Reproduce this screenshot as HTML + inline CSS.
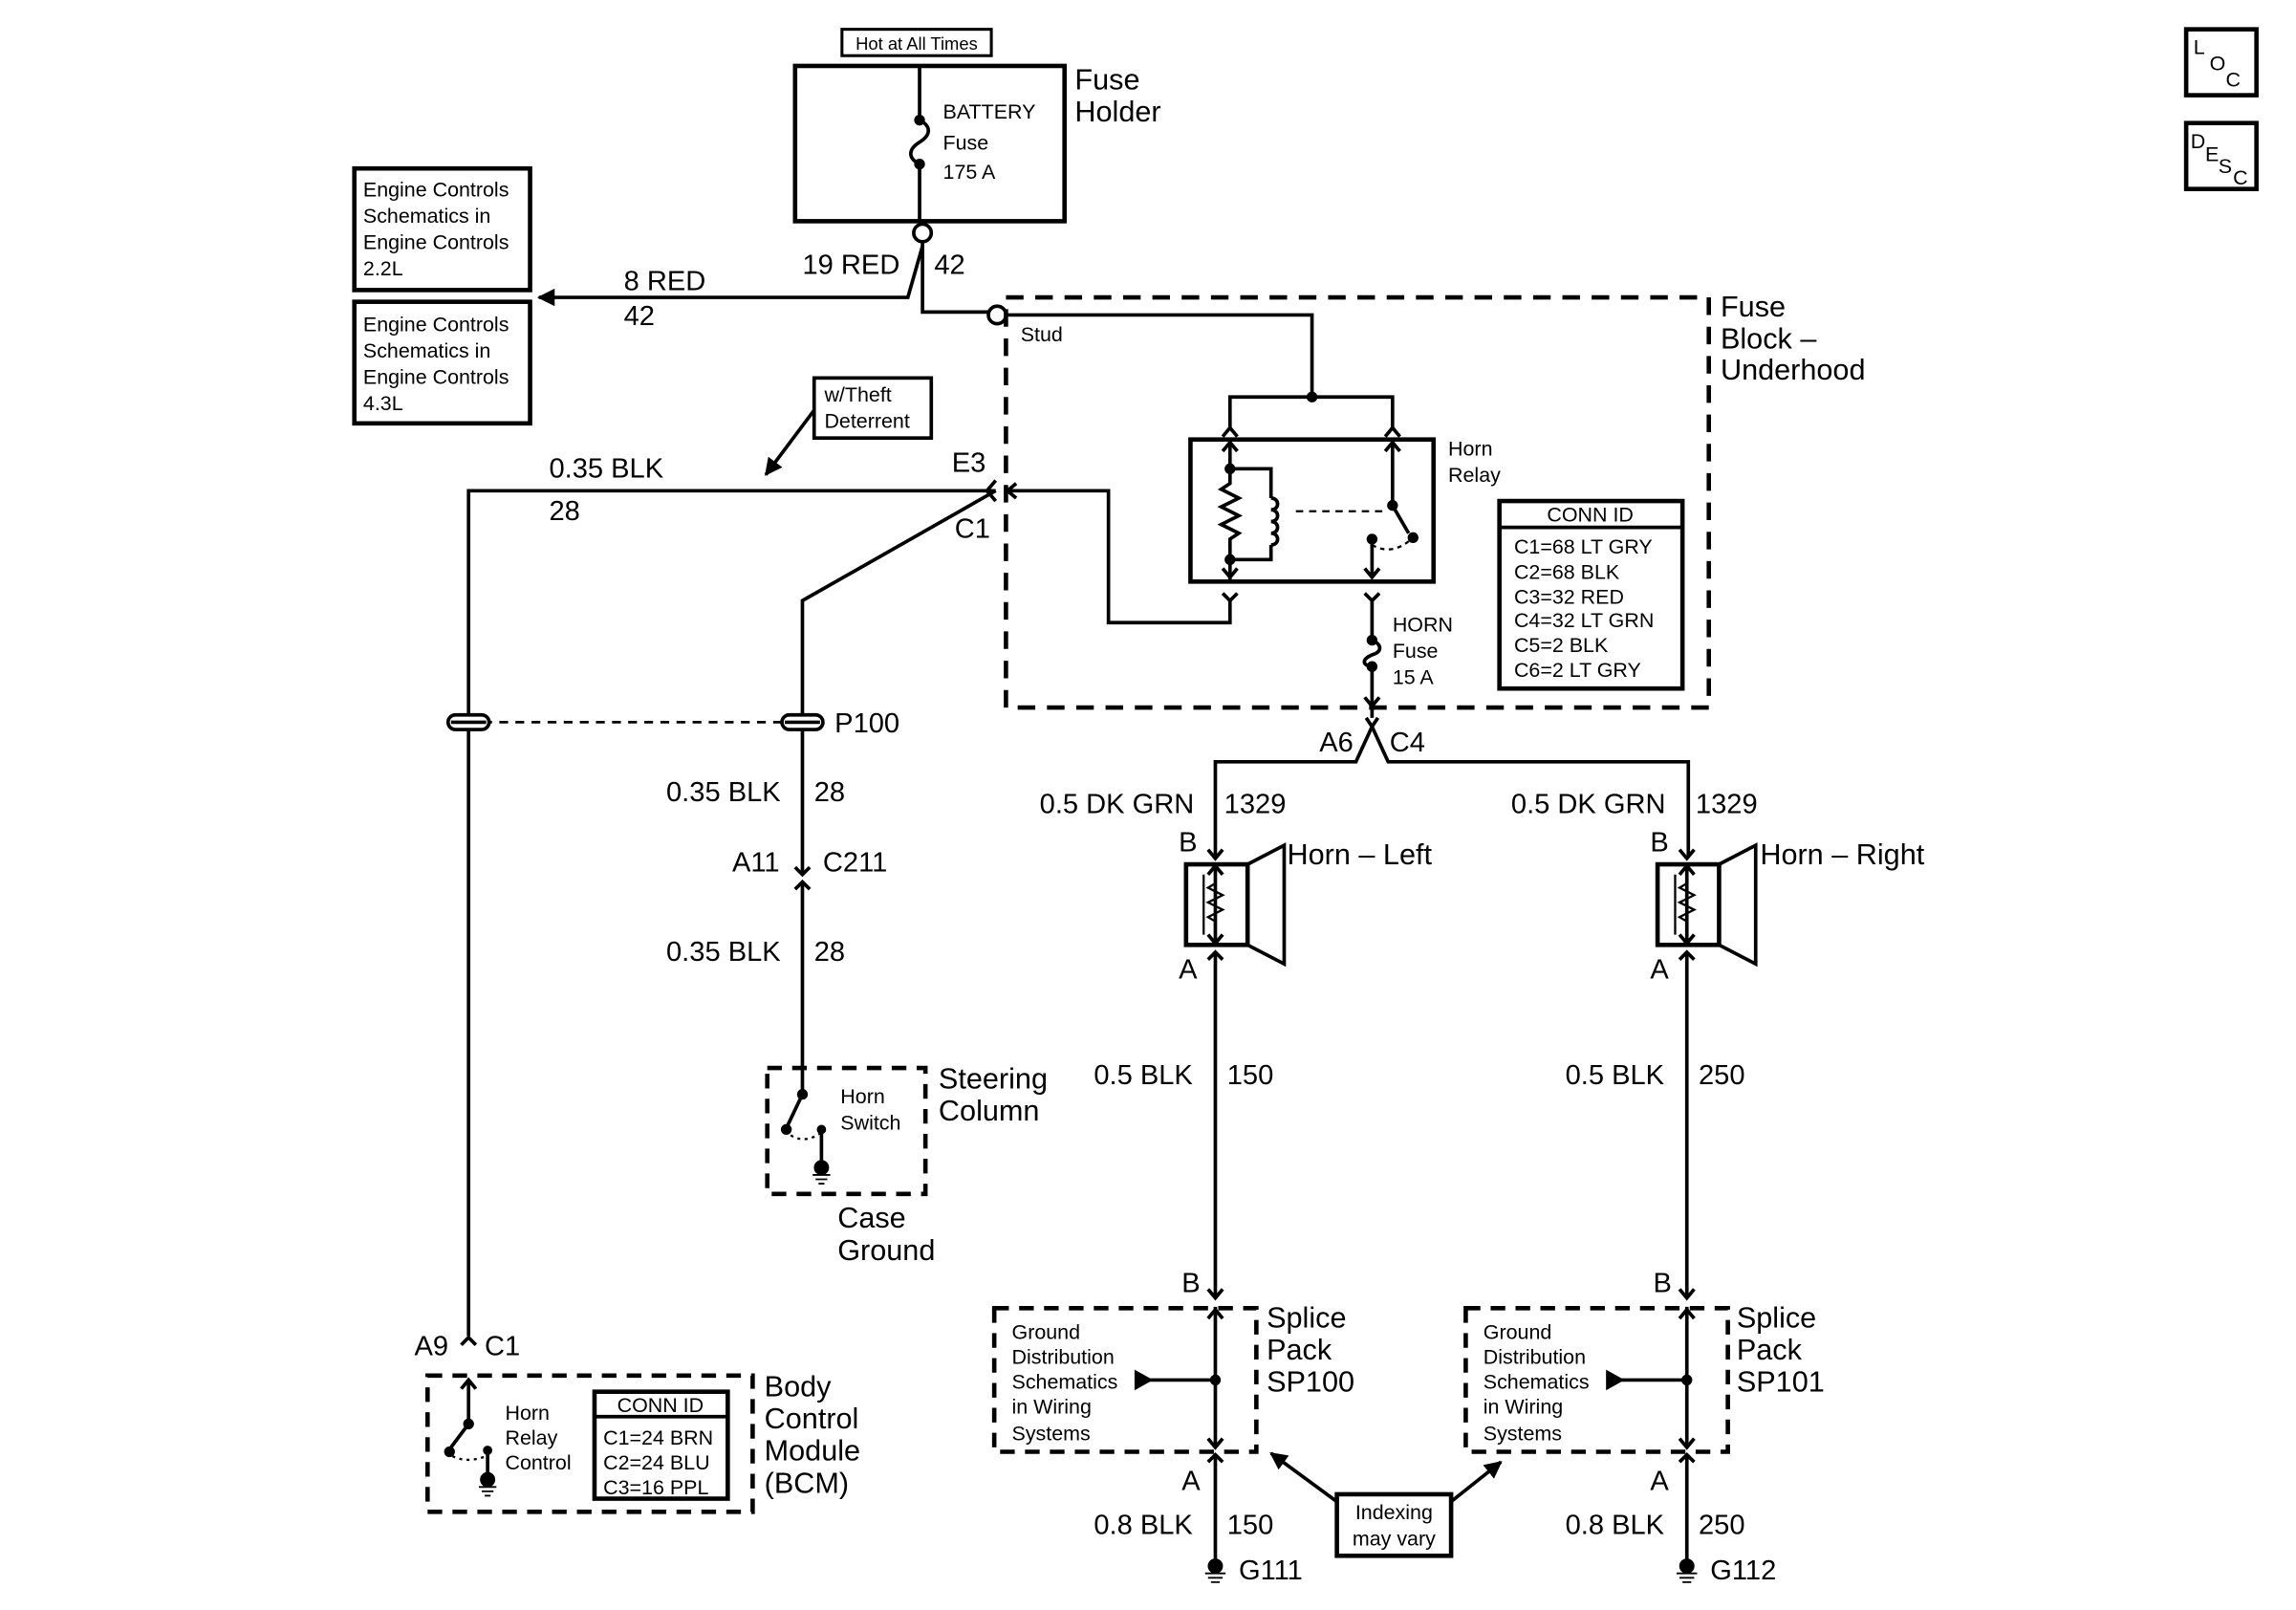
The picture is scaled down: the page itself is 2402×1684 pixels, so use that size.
<!DOCTYPE html>
<html><head><style>html,body{margin:0;padding:0;background:#fff}svg{display:block}</style></head>
<body>
<svg width="2402" height="1684" viewBox="0 0 1568 1099" preserveAspectRatio="none" xmlns="http://www.w3.org/2000/svg" font-family="Liberation Sans, sans-serif" fill="none" stroke="#000" stroke-width="2.4">
<defs>
<marker id="ar" viewBox="0 0 10 10" refX="9" refY="5" markerWidth="5" markerHeight="5" orient="auto"><path d="M0,0 L10,5 L0,10 z" fill="#000" stroke="none"/></marker>
</defs>
<!-- LOC / DESC -->
<rect x="1493" y="20" width="48" height="45" stroke-width="3"/>
<rect x="1493" y="84" width="48" height="45" stroke-width="3"/>
<g fill="#000" stroke="none" font-size="14">
<text x="1498" y="37">L</text><text x="1509" y="48">O</text><text x="1520" y="59">C</text>
<text x="1496" y="101">D</text><text x="1506" y="110">E</text><text x="1515" y="118">S</text><text x="1525" y="126">C</text>
</g>
<!-- Hot at all times -->
<rect x="575" y="20" width="102" height="18" stroke-width="2"/>
<text x="626" y="34" font-size="12" text-anchor="middle" fill="#000" stroke="none">Hot at All Times</text>
<!-- Fuse holder -->
<rect x="543" y="45" width="184" height="106" stroke-width="3"/>
<path d="M628,45 V82 M628,112 V151"/>
<path d="M628,82 c8,4 8,10 0,15 c-8,5 -8,11 0,15"/>
<circle cx="628" cy="82" r="2.5" fill="#000"/><circle cx="628" cy="112" r="2.5" fill="#000"/>
<g fill="#000" stroke="none" font-size="14">
<text x="644" y="81">BATTERY</text><text x="644" y="102">Fuse</text><text x="644" y="122">175 A</text>
</g>
<g fill="#000" stroke="none" font-size="20">
<text x="734" y="61">Fuse</text><text x="734" y="83">Holder</text>
</g>
<circle cx="630" cy="159" r="6" fill="#fff"/>
<path d="M630,165 V213 H675"/>
<path d="M630,168 L620,203 H368" marker-end="url(#ar)"/>
<circle cx="681" cy="215" r="6" fill="#fff"/>
<g fill="#000" stroke="none" font-size="19">
<text x="548" y="187">19 RED</text><text x="638" y="187">42</text>
<text x="426" y="198">8 RED</text><text x="426" y="222">42</text>
</g>
<!-- Engine controls boxes -->
<rect x="242" y="115" width="120" height="83" stroke-width="3"/>
<rect x="242" y="206" width="120" height="83" stroke-width="3"/>
<g fill="#000" stroke="none" font-size="14">
<text x="248" y="134">Engine Controls</text><text x="248" y="152">Schematics in</text><text x="248" y="170">Engine Controls</text><text x="248" y="188">2.2L</text>
<text x="248" y="226">Engine Controls</text><text x="248" y="244">Schematics in</text><text x="248" y="262">Engine Controls</text><text x="248" y="280">4.3L</text>
</g>
<!-- Fuse block underhood -->
<rect x="687" y="203" width="480" height="280" stroke-width="3" stroke-dasharray="12,8"/>
<g fill="#000" stroke="none" font-size="20">
<text x="1175" y="216">Fuse</text><text x="1175" y="238">Block –</text><text x="1175" y="259">Underhood</text>
</g>
<text x="697" y="233" font-size="14" fill="#000" stroke="none">Stud</text>
<path d="M687,215 H896 V271 M840,293 V271 H951 V293"/>
<circle cx="896" cy="271" r="2.5" fill="#000"/>
<path d="M835,298 l5,-6 l5,6 M946,298 l5,-6 l5,6"/>
<rect x="813" y="300" width="166" height="97" stroke-width="3"/>
<path d="M840,300 V330 l-6,4 l12,6 l-12,6 l12,6 l-12,6 l12,6 l-6,4 V397"/>
<path d="M835,308 l5,-6 l5,6 M951,302 V345 M946,308 l5,-6 l5,6"/>
<path d="M840,320 H868 V340 M868,372 V382 H840"/>
<path d="M868,340 c6,0 6,8 0,8 c6,0 6,8 0,8 c6,0 6,8 0,8 c6,0 6,8 0,8"/>
<circle cx="840" cy="320" r="2.5" fill="#000"/><circle cx="840" cy="382" r="2.5" fill="#000"/>
<path d="M885,349 H947" stroke-dasharray="5,4" stroke-width="1.5"/>
<circle cx="951" cy="345" r="2.5" fill="#000"/><circle cx="965" cy="367" r="2.5" fill="#000"/><circle cx="937" cy="368" r="2.5" fill="#000"/>
<path d="M951,345 L962,364"/>
<path d="M937,372 q14,8 28,-5" stroke-dasharray="3,3" stroke-width="1.5"/>
<path d="M937,368 V395 M835,388 l5,6 l5,-6 M932,388 l5,6 l5,-6"/>
<g fill="#000" stroke="none" font-size="14"><text x="989" y="311">Horn</text><text x="989" y="329">Relay</text></g>
<path d="M835,405 l5,5 l5,-5 M932,405 l5,5 l5,-5"/>
<path d="M840,410 V425 H757 V335 H687"/>
<path d="M694,330 l-6,5 l6,5"/>
<path d="M937,410 V437 M937,455 V490"/>
<path d="M937,437 c7,3 7,8 0,10 c-7,3 -7,7 0,8"/>
<circle cx="937" cy="437" r="2.5" fill="#000"/><circle cx="937" cy="455" r="2.5" fill="#000"/>
<path d="M932,476 l5,6 l5,-6"/>
<g fill="#000" stroke="none" font-size="14"><text x="951" y="431">HORN</text><text x="951" y="449">Fuse</text><text x="951" y="467">15 A</text></g>
<!-- CONN ID -->
<rect x="1024" y="342" width="125" height="128" stroke-width="3"/>
<path d="M1024,360 H1149"/>
<g fill="#000" stroke="none" font-size="14">
<text x="1086" y="356" text-anchor="middle">CONN ID</text>
<text x="1034" y="378">C1=68 LT GRY</text><text x="1034" y="395">C2=68 BLK</text><text x="1034" y="412">C3=32 RED</text>
<text x="1034" y="428">C4=32 LT GRN</text><text x="1034" y="445">C5=2 BLK</text><text x="1034" y="462">C6=2 LT GRY</text>
</g>
<!-- A6 C4 -->
<path d="M933,490 l4,6 l4,-6 M937,496 L926,520 H830 V585 M937,496 L948,520 H1153 V585"/>
<g fill="#000" stroke="none" font-size="19"><text x="901" y="513">A6</text><text x="949" y="513">C4</text></g>
<!-- E3 wire -->
<path d="M320,912 V335 H680"/>
<path d="M680,328 l-6,7 l6,7"/>
<path d="M680,335 L548,410 V596"/>
<g fill="#000" stroke="none" font-size="19">
<text x="375" y="326">0.35 BLK</text><text x="375" y="355">28</text>
<text x="650" y="322">E3</text><text x="652" y="367">C1</text>
</g>
<rect x="556" y="258" width="80" height="41" stroke-width="2.4"/>
<g fill="#000" stroke="none" font-size="14"><text x="563" y="274">w/Theft</text><text x="563" y="292">Deterrent</text></g>
<path d="M556,280 L523,324" marker-end="url(#ar)"/>
<!-- P100 -->
<path d="M330,493 H536" stroke-dasharray="6,5" stroke-width="1.8"/>
<rect x="306" y="488" width="28" height="10" rx="5" fill="#fff"/><path d="M308,493 H332"/>
<rect x="534" y="488" width="28" height="10" rx="5" fill="#fff"/><path d="M536,493 H560"/>
<g fill="#000" stroke="none" font-size="19">
<text x="570" y="500">P100</text>
<text x="455" y="547">0.35 BLK</text><text x="556" y="547">28</text>
<text x="500" y="595">A11</text><text x="562" y="595">C211</text>
<text x="455" y="656">0.35 BLK</text><text x="556" y="656">28</text>
</g>
<path d="M543,592 l5,5 l5,-5 M543,607 l5,-5 l5,5"/>
<path d="M548,603 V747"/>
<!-- Steering column -->
<rect x="524" y="729" width="108" height="86" stroke-dasharray="10,7" stroke-width="3"/>
<circle cx="548" cy="747" r="2.5" fill="#000"/><circle cx="537" cy="771" r="2.5" fill="#000"/><circle cx="561" cy="771" r="2" fill="#000"/>
<path d="M548,747 L538,768"/>
<path d="M540,775 q10,6 21,-2" stroke-dasharray="2,3" stroke-width="1.5"/>
<path d="M561,771 V795"/><circle cx="561" cy="797" r="4" fill="#000"/>
<path d="M555,802 H567 M557,805 H565 M559,808 H563" stroke-width="1.2"/>
<g fill="#000" stroke="none" font-size="14"><text x="574" y="753">Horn</text><text x="574" y="771">Switch</text></g>
<g fill="#000" stroke="none" font-size="20">
<text x="641" y="743">Steering</text><text x="641" y="765">Column</text>
<text x="572" y="838">Case</text><text x="572" y="860">Ground</text>
</g>
<!-- BCM -->
<path d="M315,918 l5,-5 l5,5"/>
<rect x="292" y="939" width="222" height="93" stroke-dasharray="10,7" stroke-width="3"/>
<path d="M320,942 V972 M315,948 l5,-6 l5,6"/>
<circle cx="320" cy="972" r="2.5" fill="#000"/><circle cx="307" cy="991" r="2.5" fill="#000"/><circle cx="333" cy="990" r="2" fill="#000"/>
<path d="M309,994 q10,5 23,0" stroke-dasharray="2,3" stroke-width="1.5"/>
<path d="M320,972 L308,988"/>
<path d="M333,990 V1008"/><circle cx="333" cy="1010" r="4" fill="#000"/>
<path d="M327,1015 H339 M329,1018 H337 M331,1021 H335" stroke-width="1.2"/>
<g fill="#000" stroke="none" font-size="14"><text x="345" y="969">Horn</text><text x="345" y="986">Relay</text><text x="345" y="1003">Control</text></g>
<rect x="406" y="950" width="91" height="73" stroke-width="3"/>
<path d="M406,967 H497"/>
<g fill="#000" stroke="none" font-size="14">
<text x="451" y="964" text-anchor="middle">CONN ID</text>
<text x="412" y="986">C1=24 BRN</text><text x="412" y="1003">C2=24 BLU</text><text x="412" y="1020">C3=16 PPL</text>
</g>
<g fill="#000" stroke="none" font-size="19">
<text x="283" y="925">A9</text><text x="331" y="925">C1</text>
</g>
<g fill="#000" stroke="none" font-size="20">
<text x="522" y="953">Body</text><text x="522" y="975">Control</text><text x="522" y="997">Module</text><text x="522" y="1019">(BCM)</text>
</g>
<!-- Horns -->
<g id="hornL">
<path d="M825,580 l5,6 l5,-6"/>
<rect x="810" y="590" width="42" height="55" stroke-width="3"/>
<path d="M852,590 L877,577 V658 L852,645"/>
<path d="M830,590 V645 M825,597 l5,-6 l5,6 M825,638 l5,6 l5,-6"/>
<path d="M822,597 V638 M830,603 l-5,3 l10,5 l-10,5 l10,5 l-10,5 l5,3" stroke-width="1.5"/>
<path d="M825,655 l5,-5 l5,5 M830,650 V885 M825,880 l5,6 l5,-6"/>
<rect x="679" y="893" width="179" height="98" stroke-dasharray="10,7" stroke-width="3"/>
<path d="M830,892 V988 M825,900 l5,-6 l5,6 M825,982 l5,6 l5,-6 M778,942 H830"/>
<path d="M776,937 l9,5 l-9,5 z" fill="#000"/>
<circle cx="830" cy="942" r="2.5" fill="#000"/>
<path d="M825,998 l5,-5 l5,5 M830,993 V1066"/>
<circle cx="830" cy="1069" r="4" fill="#000"/>
<path d="M823,1074 H837 M825,1077 H835 M827,1080 H833" stroke-width="1.2"/>
</g>
<use href="#hornL" transform="translate(322,0)"/>
<g fill="#000" stroke="none" font-size="19">
<text x="710" y="555">0.5 DK GRN</text><text x="836" y="555">1329</text>
<text x="1032" y="555">0.5 DK GRN</text><text x="1158" y="555">1329</text>
<text x="805" y="581">B</text><text x="1127" y="581">B</text>
<text x="805" y="668">A</text><text x="1127" y="668">A</text>
<text x="747" y="740">0.5 BLK</text><text x="838" y="740">150</text>
<text x="1069" y="740">0.5 BLK</text><text x="1160" y="740">250</text>
<text x="807" y="882">B</text><text x="1129" y="882">B</text>
<text x="807" y="1017">A</text><text x="1127" y="1017">A</text>
<text x="747" y="1047">0.8 BLK</text><text x="838" y="1047">150</text>
<text x="1069" y="1047">0.8 BLK</text><text x="1160" y="1047">250</text>
<text x="846" y="1078">G111</text><text x="1168" y="1078">G112</text>
</g>
<g fill="#000" stroke="none" font-size="20">
<text x="879" y="590">Horn – Left</text><text x="1202" y="590">Horn – Right</text>
<text x="865" y="906">Splice</text><text x="865" y="928">Pack</text><text x="865" y="950">SP100</text>
<text x="1186" y="906">Splice</text><text x="1186" y="928">Pack</text><text x="1186" y="950">SP101</text>
</g>
<g fill="#000" stroke="none" font-size="14">
<text x="691" y="914">Ground</text><text x="691" y="931">Distribution</text><text x="691" y="948">Schematics</text><text x="691" y="965">in Wiring</text><text x="691" y="983">Systems</text>
<text x="1013" y="914">Ground</text><text x="1013" y="931">Distribution</text><text x="1013" y="948">Schematics</text><text x="1013" y="965">in Wiring</text><text x="1013" y="983">Systems</text>
</g>
<rect x="913" y="1020" width="78" height="42" stroke-width="3"/>
<g fill="#000" stroke="none" font-size="14"><text x="952" y="1037" text-anchor="middle">Indexing</text><text x="952" y="1055" text-anchor="middle">may vary</text></g>
<path d="M913,1025 L868,992" marker-end="url(#ar)"/>
<path d="M991,1025 L1025,998" marker-end="url(#ar)"/>
</svg>
</body></html>
